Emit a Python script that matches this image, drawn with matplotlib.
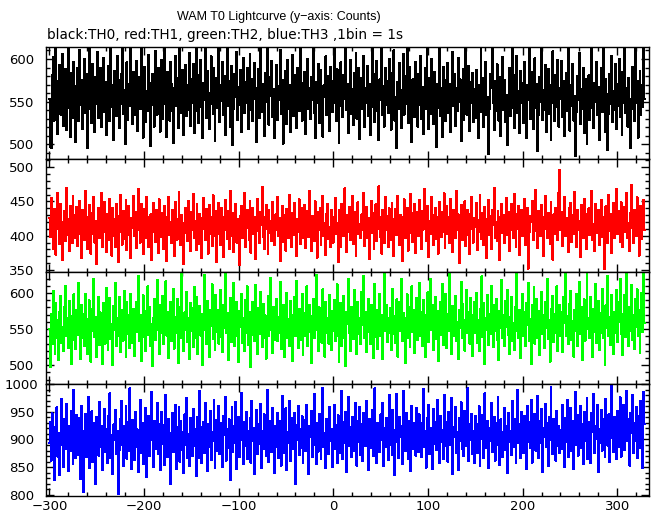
import numpy as np
import matplotlib
matplotlib.use("Agg")
import matplotlib.pyplot as plt
from matplotlib.ticker import MultipleLocator

# WAM T0 lightcurves, 1 s bins starting at t = -300
t_start = -300

# TH0 (black)
th0 = [
    553, 497, 496, 581, 602, 528, 566, 619, 540, 512, 574, 593, 535, 561, 606, 522, 548, 588, 517, 570, 625, 543, 509, 584, 556, 531, 597, 568, 503, 550,
    589, 527, 610, 546, 575, 518, 562, 600, 537, 583, 496, 559, 616, 541, 572, 525, 594, 553, 514, 579, 547, 608, 531, 566, 589, 520, 556, 601, 538, 573,
    511, 549, 592, 563, 527, 617, 544, 570, 505, 586, 558, 533, 603, 575, 519, 547, 582, 612, 536, 564, 500, 555, 596, 529, 571, 545, 613, 552, 524, 585,
    567, 534, 598, 516, 560, 579, 541, 623, 550, 508, 574, 591, 526, 562, 539, 605, 572, 498, 546, 583, 557, 521, 609, 568, 535, 590, 543, 515, 577, 599,
    530, 561, 614, 547, 509, 585, 556, 528, 596, 571, 539, 502, 566, 604, 545, 578, 519, 553, 620, 537, 564, 587, 511, 549, 593, 533, 569, 540, 607, 522,
    576, 548, 594, 513, 558, 631, 539, 581, 525, 565, 599, 544, 507, 572, 552, 615, 531, 586, 560, 518, 547, 603, 570, 536, 589, 504, 562, 578, 543, 612,
    526, 569, 551, 597, 534, 580, 511, 557, 624, 545, 574, 520, 592, 563, 499, 541, 583, 555, 608, 529, 567, 546, 587, 515, 560, 601, 537, 573, 549, 590,
    518, 562, 606, 540, 577, 527, 553, 595, 566, 503, 548, 588, 531, 614, 559, 538, 571, 510, 584, 550, 626, 544, 523, 579, 557, 598, 532, 565, 507, 545,
    593, 529, 568, 552, 611, 536, 575, 501, 547, 586, 561, 524, 599, 542, 570, 515, 557, 605, 533, 581, 550, 519, 590, 563, 539, 617, 554, 528, 572, 546,
    585, 512, 558, 600, 541, 566, 530, 579, 552, 622, 537, 508, 573, 548, 594, 525, 562, 587, 543, 509, 569, 556, 603, 534, 580, 547, 516, 591, 560, 538,
    574, 614, 549, 527, 588, 560, 502, 545, 596, 567, 532, 581, 553, 619, 540, 571, 513, 558, 599, 536, 565, 523, 584, 549, 607, 530, 562, 590, 506, 555,
    578, 541, 603, 520, 566, 548, 592, 533, 571, 511, 557, 627, 544, 582, 526, 563, 598, 539, 505, 576, 552, 615, 535, 568, 521, 589, 546, 574, 537, 600,
    549, 517, 584, 561, 610, 528, 555, 496, 573, 542, 595, 564, 519, 551, 606, 535, 580, 547, 616, 525, 568, 591, 539, 503, 576, 556, 532, 597, 560, 521,
    583, 546, 604, 530, 567, 512, 555, 589, 541, 625, 563, 518, 578, 536, 600, 549, 524, 585, 558, 497, 571, 543, 612, 533, 566, 509, 591, 552, 575, 527,
    560, 595, 537, 571, 514, 553, 608, 545, 582, 522, 566, 539, 601, 550, 576, 504, 543, 588, 529, 563, 618, 535, 557, 592, 516, 573, 548, 584, 526, 565,
    531, 587, 552, 507, 569, 545, 613, 538, 578, 520, 561, 596, 534, 555, 489, 542, 583, 566, 621, 549, 517, 574, 539, 594, 556, 528, 579, 510, 563, 602,
    540, 575, 526, 558, 499, 547, 590, 533, 567, 612, 543, 519, 581, 554, 604, 537, 562, 513, 586, 548, 572, 525, 597, 541, 508, 569, 552, 616, 530, 561,
    585, 518, 556, 601, 543, 571, 492, 535, 579, 550, 622, 529, 564, 540, 593, 515, 557, 588, 536, 570, 505, 548, 609, 562, 527, 581, 544, 599, 521, 566,
    553, 598, 532, 574, 510, 547, 584, 539, 619, 561, 516, 569, 545, 594, 528, 557, 487, 538, 580, 552, 607, 524, 565, 541, 590, 513, 556, 576, 501, 546,
    581, 529, 560, 614, 543, 519, 572, 550, 596, 534, 567, 505, 555, 589, 538, 624, 548, 515, 577, 559, 493, 536, 583, 547, 603, 526, 563, 540, 594, 518,
    571, 545, 600, 532, 557, 511, 585, 548, 629, 537, 566, 521, 578, 553, 496, 542, 591, 560, 527, 612, 549, 574, 508, 561, 586, 535, 569, 544, 617, 553,
]

# TH1 (red)
th1 = [
    426, 398, 455, 417, 381, 439, 404, 372, 431, 462, 409, 388, 447, 420, 365, 413, 436, 392, 470, 425, 401, 378, 444, 416, 389, 458, 430, 396, 411, 442,
    385, 423, 451, 402, 368, 437, 415, 394, 466, 428, 380, 409, 445, 419, 374, 433, 403, 456, 390, 421, 359, 412, 440, 397, 427, 463, 384, 414, 449, 406,
    376, 432, 418, 393, 454, 410, 371, 441, 425, 400, 383, 447, 416, 362, 429, 460, 405, 387, 436, 413, 395, 452, 379, 420, 443, 401, 367, 426, 411, 458,
    399, 435, 382, 417, 468, 408, 390, 446, 422, 373, 414, 439, 396, 457, 427, 384, 403, 431, 364, 419, 448, 406, 391, 437, 412, 375, 453, 424, 398, 433,
    416, 380, 443, 405, 363, 428, 457, 401, 420, 389, 438, 411, 370, 449, 425, 394, 415, 464, 407, 386, 430, 418, 359, 404, 441, 422, 392, 450, 413, 377,
    434, 408, 461, 397, 421, 379, 446, 415, 388, 432, 405, 367, 426, 455, 410, 393, 439, 419, 374, 445, 402, 428, 385, 459, 414, 399, 436, 361, 423, 448,
    403, 387, 440, 427, 369, 418, 452, 409, 395, 436, 380, 465, 421, 400, 433, 376, 412, 447, 390, 424, 406, 357, 429, 443, 397, 417, 462, 383, 411, 438,
    420, 394, 451, 375, 413, 440, 402, 428, 366, 419, 454, 407, 389, 434, 416, 471, 398, 381, 427, 445, 410, 373, 437, 404, 422, 392, 449, 415, 386, 431,
    408, 457, 399, 426, 363, 417, 444, 391, 430, 405, 378, 439, 421, 396, 460, 412, 384, 433, 401, 448, 418, 370, 425, 406, 453, 388, 414, 441, 397, 423,
    445, 382, 411, 436, 398, 466, 420, 377, 429, 404, 392, 450, 416, 368, 435, 409, 441, 387, 424, 458, 400, 419, 372, 432, 446, 395, 413, 383, 438, 407,
    390, 428, 455, 403, 419, 361, 437, 412, 384, 447, 425, 399, 469, 415, 376, 430, 406, 442, 393, 421, 458, 388, 411, 434, 371, 423, 449, 402, 417, 396,
    431, 409, 463, 385, 418, 442, 397, 426, 366, 414, 451, 404, 433, 380, 420, 446, 392, 410, 472, 427, 398, 374, 437, 415, 389, 456, 408, 429, 383, 440,
    416, 394, 448, 424, 370, 412, 439, 401, 458, 419, 386, 430, 407, 363, 427, 453, 396, 415, 441, 378, 422, 404, 461, 433, 391, 410, 446, 375, 420, 435,
    399, 452, 418, 381, 436, 409, 468, 425, 392, 413, 444, 369, 421, 403, 457, 430, 387, 416, 440, 395, 428, 374, 449, 411, 398, 434, 406, 462, 382, 419,
    443, 402, 427, 389, 454, 414, 376, 437, 421, 396, 466, 408, 431, 360, 417, 445, 393, 425, 411, 450, 385, 419, 438, 401, 373, 432, 456, 410, 390, 426,
    412, 448, 379, 423, 406, 460, 395, 433, 417, 386, 442, 424, 368, 411, 452, 401, 429, 381, 438, 415, 470, 397, 420, 392, 436, 407, 364, 427, 446, 404,
    430, 389, 419, 455, 401, 435, 378, 416, 447, 409, 396, 461, 422, 384, 432, 410, 443, 372, 418, 438, 399, 427, 453, 387, 413, 441, 352, 405, 429, 420,
    451, 393, 424, 407, 467, 414, 382, 436, 419, 400, 445, 428, 371, 410, 458, 426, 397, 433, 412, 388, 449, 417, 365, 431, 403, 440, 421, 394, 463, 496,
    408, 434, 385, 420, 457, 399, 426, 413, 376, 441, 416, 448, 391, 430, 402, 464, 418, 383, 437, 409, 422, 369, 445, 411, 396, 454, 425, 380, 432, 414,
    440, 401, 429, 465, 393, 417, 378, 446, 423, 404, 437, 386, 415, 452, 398, 428, 351, 411, 443, 420, 389, 460, 407, 432, 375, 419, 448, 396, 424, 468,
    402, 436, 413, 391, 449, 419, 383, 442, 406, 427, 463, 397, 418, 377, 433, 474, 411, 389, 438, 422, 400, 456, 415, 371, 429, 444, 395, 420, 452, 408,
]

# TH2 (green)
th2 = [
    550, 498, 571, 529, 603, 547, 515, 586, 538, 562, 507, 574, 596, 531, 553, 519, 580, 610, 541, 565, 524, 589, 545, 501, 568, 535, 598, 556, 522, 577,
    542, 614, 561, 509, 583, 537, 571, 526, 599, 552, 516, 564, 590, 533, 505, 578, 548, 620, 539, 567, 511, 555, 594, 528, 573, 545, 502, 586, 559, 530,
    607, 544, 521, 569, 593, 536, 557, 500, 582, 549, 614, 527, 565, 540, 595, 518, 560, 576, 534, 603, 551, 512, 587, 543, 570, 524, 599, 556, 531, 578,
    513, 561, 588, 546, 624, 533, 570, 506, 552, 597, 539, 575, 520, 564, 609, 542, 581, 527, 557, 499, 566, 592, 535, 548, 618, 553, 515, 583, 544, 571,
    596, 529, 558, 616, 541, 574, 510, 563, 588, 534, 550, 605, 523, 567, 545, 592, 503, 556, 580, 538, 627, 561, 519, 573, 549, 601, 532, 565, 508, 586,
    547, 579, 525, 608, 553, 537, 594, 515, 560, 582, 541, 571, 500, 549, 625, 566, 529, 589, 543, 511, 576, 554, 612, 536, 568, 521, 597, 546, 577, 530,
    563, 604, 539, 518, 584, 552, 630, 544, 572, 507, 557, 593, 532, 569, 548, 614, 526, 561, 587, 540, 504, 575, 553, 599, 531, 566, 520, 590, 545, 609,
    528, 574, 556, 497, 542, 588, 565, 534, 611, 550, 516, 579, 543, 602, 562, 525, 585, 537, 569, 509, 555, 596, 540, 573, 621, 548, 517, 581, 535, 560,
    591, 533, 567, 545, 615, 522, 558, 584, 511, 576, 550, 600, 538, 564, 527, 589, 547, 506, 570, 594, 541, 617, 556, 524, 578, 535, 562, 599, 514, 553,
    572, 540, 609, 526, 561, 583, 546, 503, 568, 592, 537, 557, 625, 549, 519, 580, 543, 571, 531, 605, 559, 512, 587, 544, 566, 530, 597, 554, 521, 575,
    548, 590, 533, 569, 612, 541, 505, 563, 586, 527, 552, 596, 538, 499, 574, 557, 619, 545, 520, 581, 561, 536, 604, 550, 572, 515, 588, 543, 566, 529,
    601, 555, 624, 537, 573, 518, 560, 592, 546, 529, 584, 567, 510, 553, 613, 539, 576, 522, 563, 598, 541, 570, 508, 557, 626, 548, 583, 532, 565, 544,
    579, 521, 560, 606, 543, 568, 531, 591, 512, 555, 587, 547, 619, 534, 572, 550, 503, 566, 598, 538, 580, 525, 561, 609, 546, 577, 517, 558, 593, 535,
    552, 614, 540, 573, 527, 590, 558, 511, 569, 545, 601, 532, 563, 620, 549, 583, 521, 556, 594, 536, 575, 506, 548, 588, 542, 612, 528, 566, 553, 599,
    524, 571, 547, 628, 555, 516, 582, 541, 567, 596, 533, 560, 509, 576, 552, 615, 537, 585, 563, 520, 548, 604, 544, 574, 530, 593, 557, 513, 569, 587,
    545, 600, 531, 562, 519, 578, 554, 623, 539, 586, 502, 566, 549, 597, 528, 571, 543, 610, 556, 525, 583, 547, 592, 535, 564, 507, 575, 551, 618, 538,
    570, 526, 589, 553, 604, 542, 515, 567, 595, 534, 558, 521, 580, 548, 629, 561, 537, 576, 510, 552, 598, 540, 573, 527, 586, 555, 614, 533, 564, 501,
    583, 547, 608, 530, 566, 592, 538, 575, 514, 557, 601, 543, 569, 524, 588, 551, 620, 536, 562, 505, 578, 549, 596, 532, 571, 545, 609, 519, 556, 584,
    540, 573, 518, 594, 558, 626, 541, 568, 529, 585, 552, 603, 535, 561, 512, 577, 548, 599, 526, 564, 615, 543, 580, 507, 557, 591, 534, 570, 631, 550,
    566, 537, 595, 554, 511, 578, 546, 612, 531, 563, 589, 521, 572, 544, 606, 538, 559, 500, 583, 551, 624, 540, 567, 528, 597, 555, 516, 574, 545, 604,
    532, 588, 560, 620, 543, 571, 514, 556, 597, 539, 629, 565, 527, 581, 548, 611, 535, 569, 522, 592, 553, 605, 541, 576, 517, 563, 600, 546, 633, 558,
]

# TH3 (blue)
th3 = [
    894, 931, 862, 947, 905, 826, 876, 923, 958, 869, 912, 835, 890, 973, 917, 851, 936, 882, 964, 901, 843, 925, 879, 952, 908, 856, 989, 921, 866, 944,
    872, 938, 903, 829, 961, 887, 805, 915, 946, 868, 899, 977, 848, 920, 884, 951, 859, 930, 892, 819, 941, 906, 871, 968, 886, 925, 844, 912, 955, 878,
    919, 857, 942, 893, 983, 866, 908, 838, 927, 899, 954, 874, 916, 801, 881, 937, 969, 890, 852, 924, 903, 960, 865, 931, 879, 992, 910, 847, 935, 896,
    863, 949, 887, 918, 841, 903, 972, 876, 930, 855, 913, 896, 957, 832, 888, 942, 870, 920, 985, 899, 851, 934, 882, 907, 966, 873, 928, 845, 915, 950,
    891, 926, 854, 981, 902, 869, 937, 884, 819, 912, 948, 878, 905, 963, 846, 923, 897, 958, 860, 933, 881, 914, 839, 945, 890, 975, 867, 909, 852, 938,
    904, 870, 955, 889, 918, 834, 941, 900, 866, 987, 922, 857, 895, 931, 875, 966, 910, 843, 927, 886, 951, 863, 913, 898, 972, 848, 935, 880, 906, 961,
    873, 929, 895, 850, 943, 908, 977, 862, 919, 885, 936, 827, 902, 959, 877, 924, 893, 968, 846, 911, 940, 868, 899, 984, 917, 855, 932, 889, 949, 864,
    915, 881, 939, 858, 970, 897, 921, 837, 906, 953, 874, 928, 892, 964, 849, 916, 883, 945, 903, 871, 990, 909, 859, 934, 896, 877, 957, 912, 840, 925,
    887, 948, 866, 910, 933, 853, 979, 901, 876, 920, 956, 844, 914, 894, 969, 861, 938, 905, 883, 947, 820, 926, 899, 961, 872, 918, 885, 942, 857, 908,
    935, 879, 962, 895, 838, 924, 904, 951, 868, 913, 982, 890, 856, 930, 878, 946, 907, 865, 921, 993, 886, 911, 848, 937, 902, 874, 958, 897, 919, 851,
    906, 963, 882, 926, 857, 944, 898, 875, 918, 987, 864, 931, 893, 950, 841, 912, 976, 889, 923, 869, 940, 903, 879, 966, 915, 853, 934, 896, 959, 872,
    928, 861, 947, 901, 889, 970, 916, 845, 937, 884, 921, 954, 870, 907, 992, 893, 858, 929, 911, 877, 945, 899, 966, 852, 920, 887, 939, 905, 863, 980,
    890, 926, 872, 953, 908, 836, 917, 982, 895, 867, 941, 904, 925, 856, 988, 912, 879, 948, 898, 864, 934, 919, 843, 961, 901, 883, 930, 871, 956, 910,
    877, 945, 903, 868, 929, 991, 886, 915, 849, 938, 897, 963, 874, 920, 908, 846, 955, 892, 931, 881, 972, 909, 858, 943, 896, 917, 865, 981, 902, 888,
    932, 860, 949, 911, 890, 974, 837, 922, 905, 958, 876, 913, 844, 939, 898, 967, 883, 924, 870, 951, 907, 888, 992, 861, 928, 899, 946, 873, 916, 857,
    942, 894, 875, 927, 960, 852, 918, 901, 944, 867, 983, 909, 885, 933, 848, 921, 897, 965, 878, 912, 940, 862, 930, 906, 977, 889, 854, 936, 914, 869,
    903, 957, 881, 925, 839, 948, 896, 916, 872, 969, 908, 887, 936, 857, 914, 989, 893, 927, 866, 950, 902, 876, 943, 918, 847, 961, 895, 932, 884, 972,
    858, 921, 899, 946, 880, 911, 978, 867, 934, 893, 955, 841, 920, 905, 964, 886, 929, 852, 941, 913, 994, 898, 873, 937, 909, 862, 952, 888, 924, 876,
    917, 883, 963, 902, 850, 939, 895, 971, 868, 926, 910, 957, 879, 934, 846, 919, 986, 890, 944, 871, 906, 960, 884, 928, 855, 949, 897, 915, 975, 864,
    932, 896, 858, 947, 913, 982, 875, 925, 901, 963, 842, 918, 894, 954, 880, 937, 906, 869, 973, 911, 889, 945, 860, 928, 997, 903, 878, 940, 916, 865,
    951, 887, 924, 976, 869, 939, 905, 962, 881, 918, 988, 897, 936, 853, 947, 912, 980, 875, 930, 898, 958, 867, 921, 943, 884, 970, 909, 849, 985, 927,
]

series = [th0, th1, th2, th3]
colors = ["black", "#ff0000", "#00ff00", "#0000ff"]
ylims = [(483, 614), (347, 512), (474, 629), (798, 1000)]

W, H = 652, 515
fig = plt.figure(figsize=(W / 100, H / 100), dpi=100)

left, right = 46 / W, 649 / W
edges = [47, 159, 272, 384, 496]  # panel borders in pixels from the top

for i, (y, c, lim) in enumerate(zip(series, colors, ylims)):
    top, bot = edges[i], edges[i + 1]
    ax = fig.add_axes([left, 1 - bot / H, right - left, (bot - top) / H])
    x = np.arange(len(y)) + t_start
    ax.plot(x, y, color=c, lw=0.72, drawstyle="steps-mid", antialiased=False)
    ax.set_xlim(-303.5, 333.5)
    ax.set_ylim(*lim)
    ax.xaxis.set_major_locator(MultipleLocator(100))
    ax.xaxis.set_minor_locator(MultipleLocator(20))
    ax.yaxis.set_major_locator(MultipleLocator(50))
    ax.yaxis.set_minor_locator(MultipleLocator(10))
    ax.tick_params(which="both", direction="in", top=True, right=True,
                   labelsize=9.5, width=1)
    ax.tick_params(which="major", length=6)
    ax.tick_params(which="minor", length=3)
    ax.tick_params(axis="x", pad=3)
    # IDL-style y labels sit centred in the left margin
    ax.tick_params(axis="y", pad=17.5)
    for lab in ax.get_yticklabels():
        lab.set_horizontalalignment("center")
    if i < 3:
        ax.tick_params(labelbottom=False)
    for s in ax.spines.values():
        s.set_linewidth(1)

fig.text(279 / W, 1 - 17 / H, "WAM T0 Lightcurve (y\u2212axis: Counts)",
         ha="center", va="center", fontsize=9, family="Liberation Sans")
fig.text(47 / W, 1 - 35 / H, "black:TH0, red:TH1, green:TH2, blue:TH3 ,1bin = 1s",
         ha="left", va="center", fontsize=9.8, family="DejaVu Sans")

fig.savefig("out.png", dpi=100)
